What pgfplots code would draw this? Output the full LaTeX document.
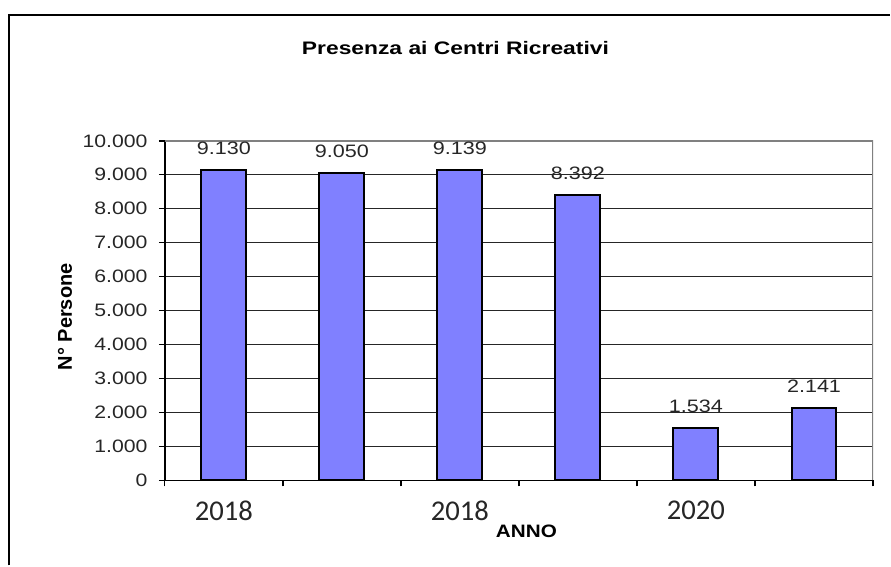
\documentclass[border=0pt]{standalone}
\usepackage{fontspec}
\setmainfont{Liberation Sans}
\newfontfamily\calibri{Carlito}
\usepackage{pgfplots}
\pgfplotsset{compat=1.18}

\definecolor{barblue}{RGB}{128,128,255}

\begin{document}
\begin{tikzpicture}
\begin{axis}[
    at={(0,0)}, anchor=south west,
    scale only axis,
    width=531.75pt, height=255pt,
    xmin=-0.5, xmax=5.5,
    ymin=0, ymax=10000,
    enlargelimits=false,
    axis lines*=left,
    axis line style={black, line width=1.2pt},
    tick align=outside,
    major tick length=4.5pt,
    minor tick length=4.5pt,
    tick style={black, line width=1pt},
    major x tick style={draw=none},
    xtick={0,2,4},
    xticklabels={2018,2018,2020},
    minor xtick={-0.5,0.5,...,5.5},
    xticklabel style={font=\calibri\fontsize{21.5}{21.5}\selectfont, text=black!85, inner sep=0pt, yshift=-10.5pt},
    ytick={0,1000,...,10000},
    scaled y ticks=false,
    /pgf/number format/.cd, 1000 sep={.}, assume math mode=true, /pgfplots/.cd,
    yticklabel style={font=\fontsize{13.5}{13.5}\selectfont, text=black!85, inner sep=0pt, xshift=-8.25pt, xscale=1.18},
    ymajorgrids,
    major grid style={black!85, line width=1pt},
    title={\textbf{Presenza ai Centri Ricreativi}},
    title style={at={(axis description cs:0.4104,1.25)}, anchor=center, font=\fontsize{13.6}{13.6}\selectfont, xscale=1.26},
    xlabel={\textbf{ANNO}},
    xlabel style={at={(axis description cs:0.5106,-0.15)}, anchor=center, font=\fontsize{13.5}{13.5}\selectfont, xscale=1.15},
    ylabel={\textbf{N° Persone}},
    ylabel style={at={(axis description cs:-0.141,0.482)}, anchor=center, font=\fontsize{15}{15}\selectfont},
    ybar,
    bar width=33.75pt,
    nodes near coords,
    nodes near coords style={font=\fontsize{13.5}{13.5}\selectfont, text=black!85, anchor=south, inner sep=0pt, yshift=11pt, xscale=1.2},
]
\addplot[fill=barblue, draw=black, line width=1.5pt] coordinates {
    (0,9130) (1,9050) (2,9139) (3,8392) (4,1534) (5,2141)
};
\draw[black!50, line width=1.5pt] (rel axis cs:0,1) -- (rel axis cs:1,1) -- (rel axis cs:1,0);
\end{axis}
% outer chart frame (cut by the page on the right and bottom)
\draw[black, line width=1.5pt] (-117pt,-63.75pt) -- (-117pt,349.5pt) -- (544.5pt,349.5pt);
\useasboundingbox (-123.75pt,-63.75pt) rectangle (544.5pt,360.75pt);
\end{tikzpicture}
\end{document}
